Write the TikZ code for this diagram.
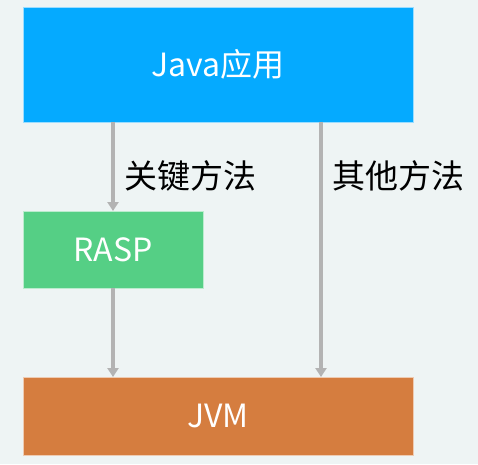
\documentclass[tikz,border=0pt]{standalone}
\usepackage{fontspec}
\setmainfont{Noto Sans CJK SC}
\usetikzlibrary{arrows.meta}
\definecolor{bgc}{HTML}{EEF4F4}
\definecolor{bluec}{HTML}{05AAFF}
\definecolor{greenc}{HTML}{55CF85}
\definecolor{orangec}{HTML}{D57D3F}
\definecolor{arrc}{HTML}{B3B3B3}
\begin{document}
\begin{tikzpicture}[x=1pt,y=-1pt,
  boxst/.style={draw=white!60!#1, line width=0.6pt, fill=#1, inner sep=0pt, text=white, font=\fontsize{32}{36}\selectfont},
  arr/.style={draw=arrc, line width=3.2pt, -{Triangle[width=11pt,length=9pt]}},
  lab/.style={font=\fontsize{33}{37}\selectfont, text=black, anchor=west, inner sep=0pt}]
\fill[bgc] (0,0) rectangle (478,464);
\useasboundingbox (0,0) rectangle (478,464);
\node[boxst=bluec, minimum width=390pt, minimum height=115pt] (app) at (218,64.5) {Java应用};
\node[boxst=greenc, minimum width=180pt, minimum height=77pt] (rasp) at (113,249.5) {RASP};
\node[boxst=orangec, minimum width=390pt, minimum height=78pt] (jvm) at (218,416) {JVM};
\coordinate (a1) at (113,122);
\coordinate (a2) at (321,122);
\coordinate (b1) at (113,211);
\coordinate (b2) at (321,377);
\coordinate (c1) at (113,288);
\coordinate (c2) at (113,377);
\draw[arr] (a1) -- (b1);
\draw[arr] (a2) -- (b2);
\draw[arr] (c1) -- (c2);
\node[lab] (l1) at (124,176) {关键方法};
\node[lab] (l2) at (332,176) {其他方法};
\end{tikzpicture}
\end{document}
